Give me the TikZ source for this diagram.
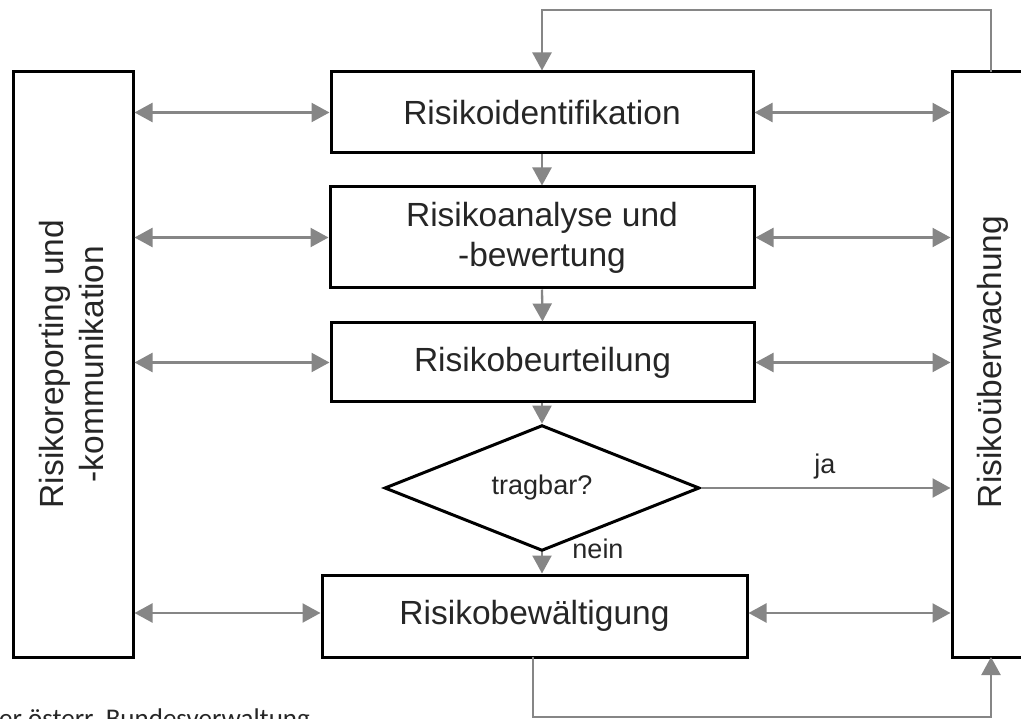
\documentclass[tikz,border=0pt]{standalone}
\usepackage{fontspec}
\setmainfont{Liberation Sans}
\newfontfamily\notefont{Carlito}
\usetikzlibrary{arrows.meta,shapes.geometric}
\definecolor{arrgray}{RGB}{134,134,134}
\begin{document}
\begin{tikzpicture}[x=1pt,y=-1pt,
  box/.style={draw=black,line width=3pt,fill=white,inner sep=0pt,align=center,
    font=\fontsize{33.5}{40}\selectfont,text=black!85},
  sidetext/.style={font=\fontsize{33.5}{40}\selectfont,text=black!85,rotate=90,inner sep=0pt,align=center},
  small/.style={font=\fontsize{27}{32}\selectfont,text=black!85,inner sep=0pt},
  conn/.style={draw=arrgray,line width=2.3pt},
  arr/.style={conn,-{Triangle[length=18pt,width=19pt]}},
  darr/.style={conn,{Triangle[length=18pt,width=19pt]}-{Triangle[length=18pt,width=19pt]}}]
\useasboundingbox (0,0) rectangle (1021,719);
% boxes
\node[box,minimum width=120pt,minimum height=585pt] (lb) at (73,364.5) {};
\node[sidetext] (lbt) at (72,364) {Risikoreporting und\\-kommunikation};
\node[box,minimum width=88pt,minimum height=585pt] (rb) at (996,364.5) {};
\node[sidetext] (rbt) at (993,362) {Risikoüberwachung};
\node[box,minimum width=422pt,minimum height=81pt] (b1) at (542,112.5) {Risikoidentifikation};
\node[box,minimum width=424pt,minimum height=101pt] (b2) at (542,237.5) {Risikoanalyse und\\-bewertung};
\node[box,minimum width=423pt,minimum height=79pt] (b3) at (542.5,362.5) {Risikobeurteilung};
\node[draw=black,line width=3pt,shape=diamond,fill=white,minimum width=315pt,minimum height=100pt,inner sep=0pt,font=\fontsize{27}{32}\selectfont,text=black!85] (d) at (542,488) {tragbar?};
\node[box,minimum width=425pt,minimum height=82pt] (b5) at (534.5,616) {Risikobewältigung};
% labels
\node[small,anchor=base] (ja) at (825,474) {ja};
\node[small,anchor=base] (nein) at (598,558) {nein};
\node[font=\notefont\fontsize{27}{30}\selectfont,text=black!85,anchor=base east,inner sep=0pt] (src) at (310,727) {der österr. Bundesverwaltung};
% horizontal double arrows
\draw[darr] (lb.east |- b1) -- (b1.west);
\draw[darr] (b1.east) -- (rb.west |- b1);
\draw[darr] (lb.east |- b2) -- (b2.west);
\draw[darr] (b2.east) -- (rb.west |- b2);
\draw[darr] (lb.east |- b3) -- (b3.west);
\draw[darr] (b3.east) -- (rb.west |- b3);
\draw[darr] (lb.east |- 0,613) -- (b5.west |- 0,613);
\draw[darr] (b5.east |- 0,613) -- (rb.west |- 0,613);
% ja
\draw[arr] (d.east) -- (rb.west |- d);
% vertical flow
\draw[arr] (b1.south) -- (b2.north);
\draw[arr] (b2.south) -- (b3.north);
\draw[arr] (b3.south -| d) -- (d.north);
\draw[arr] (d.south) -- (b5.north -| d);
% loops
\coordinate (rtop) at (991,72);
\coordinate (tr) at (991,10);
\coordinate (tl) at (542,10);
\draw[arr] (rtop) -- (tr) -- (tl) -- (b1.north);
\coordinate (b5out) at (533,657);
\coordinate (bl) at (533,717);
\coordinate (br) at (991,717);
\coordinate (rbot) at (991,657);
\draw[arr] (b5out) -- (bl) -- (br) -- (rbot);
\end{tikzpicture}
\end{document}
